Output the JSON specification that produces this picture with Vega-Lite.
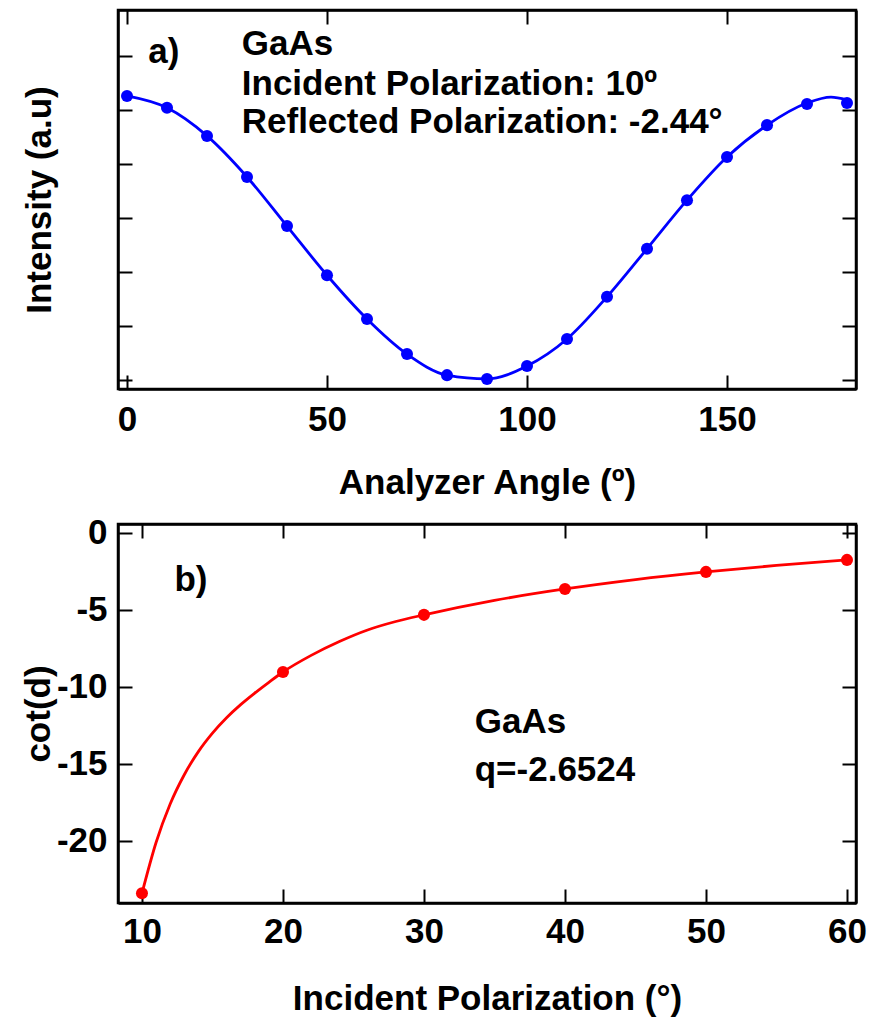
{
  "$schema": "https://vega.github.io/schema/vega-lite/v6.json",
  "background": "white",
  "padding": {"top": 7, "left": 20, "right": 10, "bottom": 0},
  "spacing": 12,
  "datasets": {
    "scanA": [
      {"angle": 0, "intensity": 5.26},
      {"angle": 10, "intensity": 5.04},
      {"angle": 20, "intensity": 4.52},
      {"angle": 30, "intensity": 3.76},
      {"angle": 40, "intensity": 2.85},
      {"angle": 50, "intensity": 1.94},
      {"angle": 60, "intensity": 1.13},
      {"angle": 70, "intensity": 0.48},
      {"angle": 80, "intensity": 0.09},
      {"angle": 90, "intensity": 0.02},
      {"angle": 100, "intensity": 0.26},
      {"angle": 110, "intensity": 0.76},
      {"angle": 120, "intensity": 1.54},
      {"angle": 130, "intensity": 2.43},
      {"angle": 140, "intensity": 3.33},
      {"angle": 150, "intensity": 4.13},
      {"angle": 160, "intensity": 4.72},
      {"angle": 170, "intensity": 5.11},
      {"angle": 180, "intensity": 5.13}
    ],
    "fitA": [
      {"angle": 0, "intensity": 5.26},
      {"angle": 10, "intensity": 5.04},
      {"angle": 20, "intensity": 4.52},
      {"angle": 30, "intensity": 3.76},
      {"angle": 40, "intensity": 2.85},
      {"angle": 50, "intensity": 1.94},
      {"angle": 60, "intensity": 1.13},
      {"angle": 70, "intensity": 0.48},
      {"angle": 80, "intensity": 0.09},
      {"angle": 90, "intensity": 0.02},
      {"angle": 100, "intensity": 0.26},
      {"angle": 110, "intensity": 0.76},
      {"angle": 120, "intensity": 1.54},
      {"angle": 130, "intensity": 2.43},
      {"angle": 140, "intensity": 3.33},
      {"angle": 150, "intensity": 4.13},
      {"angle": 160, "intensity": 4.72},
      {"angle": 170, "intensity": 5.13},
      {"angle": 176, "intensity": 5.24},
      {"angle": 180, "intensity": 5.19}
    ],
    "notesA": [
      {"angle": 5.3, "intensity": 6.08, "text": "a)"},
      {"angle": 28.7, "intensity": 6.22, "text": "GaAs"},
      {"angle": 28.7, "intensity": 5.48, "text": "Incident Polarization: 10º"},
      {"angle": 28.7, "intensity": 4.78, "text": "Reflected Polarization: -2.44°"}
    ],
    "scanB": [
      {"incident": 10, "cotd": -23.4},
      {"incident": 20, "cotd": -9.03},
      {"incident": 30, "cotd": -5.32},
      {"incident": 40, "cotd": -3.64},
      {"incident": 50, "cotd": -2.53},
      {"incident": 60, "cotd": -1.75}
    ],
    "fitB": [
      {"incident": 10, "cotd": -23.4},
      {"incident": 11, "cotd": -20.1},
      {"incident": 12, "cotd": -17.6},
      {"incident": 13, "cotd": -15.7},
      {"incident": 14, "cotd": -14.2},
      {"incident": 15, "cotd": -13.0},
      {"incident": 16, "cotd": -12.0},
      {"incident": 17, "cotd": -11.15},
      {"incident": 18, "cotd": -10.4},
      {"incident": 19, "cotd": -9.7},
      {"incident": 20, "cotd": -9.03},
      {"incident": 22, "cotd": -7.95},
      {"incident": 24, "cotd": -7.05},
      {"incident": 26, "cotd": -6.3},
      {"incident": 28, "cotd": -5.75},
      {"incident": 30, "cotd": -5.32},
      {"incident": 35, "cotd": -4.38},
      {"incident": 40, "cotd": -3.64},
      {"incident": 45, "cotd": -3.03},
      {"incident": 50, "cotd": -2.53},
      {"incident": 55, "cotd": -2.11},
      {"incident": 60, "cotd": -1.75}
    ],
    "notesB": [
      {"incident": 12.3, "cotd": -3.05, "text": "b)"},
      {"incident": 33.6, "cotd": -12.27, "text": "GaAs"},
      {"incident": 33.6, "cotd": -15.39, "text": "q=-2.6524"}
    ]
  },
  "vconcat": [
    {
      "width": 738,
      "height": 379,
      "layer": [
        {
          "data": {"name": "fitA"},
          "mark": {"type": "line", "color": "#0000ff", "strokeWidth": 2.8, "interpolate": "monotone"},
          "encoding": {
            "x": {
              "field": "angle", "type": "quantitative",
              "scale": {"domain": [-2.25, 182.25], "nice": false, "zero": false},
              "axis": {"orient": "bottom", "values": [0, 50, 100, 150], "title": "Analyzer Angle (º)", "labelPadding": 27, "titlePadding": 28}
            },
            "y": {
              "field": "intensity", "type": "quantitative",
              "scale": {"domain": [-0.1667, 6.852], "nice": false, "zero": false},
              "axis": {"orient": "left", "values": [0, 1, 2, 3, 4, 5, 6], "labels": false, "title": "Intensity (a.u)", "titlePadding": 60}
            }
          }
        },
        {
          "data": {"name": "scanA"},
          "mark": {"type": "point", "filled": true, "color": "#0000ff", "size": 145, "opacity": 1},
          "encoding": {
            "x": {"field": "angle", "type": "quantitative", "axis": {"orient": "top", "values": [0, 50, 100, 150], "labels": false, "title": null}},
            "y": {"field": "intensity", "type": "quantitative", "axis": {"orient": "right", "values": [0, 1, 2, 3, 4, 5, 6], "labels": false, "title": null}}
          }
        },
        {
          "data": {"name": "notesA"},
          "mark": {"type": "text", "font": "Liberation Sans", "fontWeight": "bold", "fontSize": 35, "baseline": "middle", "align": "left", "color": "black"},
          "encoding": {
            "x": {"field": "angle", "type": "quantitative", "axis": null},
            "y": {"field": "intensity", "type": "quantitative", "axis": null},
            "text": {"field": "text"}
          }
        }
      ],
      "resolve": {"axis": {"x": "independent", "y": "independent"}}
    },
    {
      "width": 738,
      "height": 379,
      "layer": [
        {
          "data": {"name": "fitB"},
          "mark": {"type": "line", "color": "#ff0000", "strokeWidth": 2.8, "interpolate": "monotone"},
          "encoding": {
            "x": {
              "field": "incident", "type": "quantitative",
              "scale": {"domain": [8.3, 60.64], "nice": false, "zero": false},
              "axis": {"orient": "bottom", "values": [10, 20, 30, 40, 50, 60], "title": "Incident Polarization (°)", "labelPadding": 25, "titlePadding": 32}
            },
            "y": {
              "field": "cotd", "type": "quantitative",
              "scale": {"domain": [-24.03, 0.58], "nice": false, "zero": false},
              "axis": {"orient": "left", "values": [0, -5, -10, -15, -20], "labelExpr": "toString(datum.value)", "title": "cot(d)", "labelPadding": 25, "titlePadding": 0}
            }
          }
        },
        {
          "data": {"name": "scanB"},
          "mark": {"type": "point", "filled": true, "color": "#ff0000", "size": 145, "opacity": 1},
          "encoding": {
            "x": {"field": "incident", "type": "quantitative", "axis": {"orient": "top", "values": [10, 20, 30, 40, 50, 60], "labels": false, "title": null}},
            "y": {"field": "cotd", "type": "quantitative", "axis": {"orient": "right", "values": [0, -5, -10, -15, -20], "labels": false, "title": null}}
          }
        },
        {
          "data": {"name": "notesB"},
          "mark": {"type": "text", "font": "Liberation Sans", "fontWeight": "bold", "fontSize": 35, "baseline": "middle", "align": "left", "color": "black"},
          "encoding": {
            "x": {"field": "incident", "type": "quantitative", "axis": null},
            "y": {"field": "cotd", "type": "quantitative", "axis": null},
            "text": {"field": "text"}
          }
        }
      ],
      "resolve": {"axis": {"x": "independent", "y": "independent"}}
    }
  ],
  "config": {
    "view": {"stroke": "black", "strokeWidth": 2.5},
    "axis": {
      "grid": false,
      "domainColor": "black",
      "domainWidth": 2.5,
      "tickColor": "black",
      "tickWidth": 2,
      "tickSize": -14,
      "labelFont": "Liberation Sans",
      "labelFontWeight": "bold",
      "labelFontSize": 35,
      "labelColor": "black",
      "labelOverlap": false,
      "titleFont": "Liberation Sans",
      "titleFontWeight": "bold",
      "titleFontSize": 35,
      "titleColor": "black"
    }
  }
}
